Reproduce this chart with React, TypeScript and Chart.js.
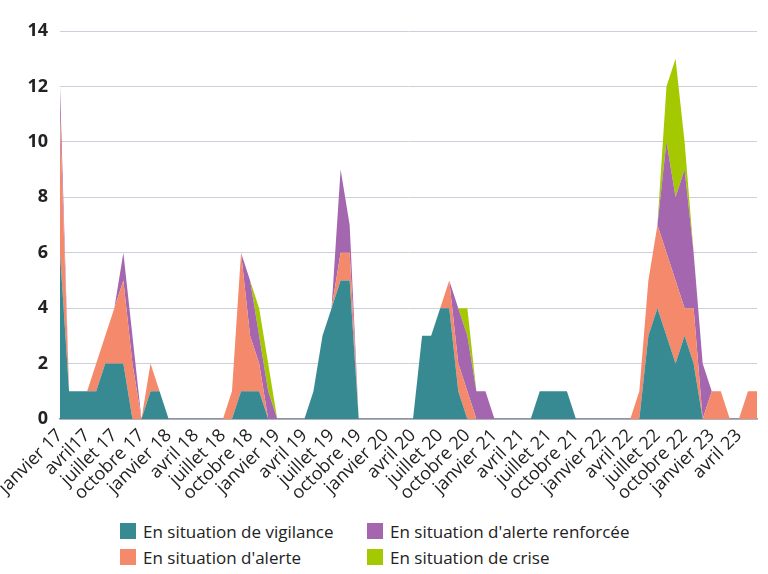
import React, { useEffect, useRef } from "react";
import { Chart, registerables } from "chart.js";

Chart.register(...registerables);

const monthNames = ["janvier", "février", "mars", "avril", "mai", "juin", "juillet", "août", "septembre", "octobre", "novembre", "décembre"];
const years = ["17", "18", "19", "20", "21", "22", "23"];
const categories: string[] = [];
for (const y of years) for (const m of monthNames) categories.push(m + " " + y);
categories.length = 78; // janvier 17 -> juin 23

const tickLabels = [
  "janvier 17", "avril17", "juillet 17", "octobre 17",
  "janvier 18", "avril 18", "juillet 18", "octobre 18",
  "janvier 19", "avril 19", "juillet 19", "octobre 19",
  "janvier 20", "avril 20", "juillet 20", "octobre 20",
  "janvier 21", "avril 21", "juillet 21", "octobre 21",
  "janvier 22", "avril 22", "juillet 22", "octobre 22",
  "janvier 23", "avril 23",
];

const vigilance = [
  6, 1, 1, 1, 1, 2, 2, 2, 0, 0, 1, 1,
  0, 0, 0, 0, 0, 0, 0, 0, 1, 1, 1, 0,
  0, 0, 0, 0, 1, 3, 4, 5, 5, 0, 0, 0,
  0, 0, 0, 0, 3, 3, 4, 4, 1, 0, 0, 0,
  0, 0, 0, 0, 0, 1, 1, 1, 1, 0, 0, 0,
  0, 0, 0, 0, 0, 3, 4, 3, 2, 3, 2, 0,
  0, 0, 0, 0, 0, 0,
];
const alerte = [
  5, 0, 0, 0, 1, 1, 2, 3, 2, 0, 1, 0,
  0, 0, 0, 0, 0, 0, 0, 1, 5, 2, 1, 0,
  0, 0, 0, 0, 0, 0, 0, 1, 1, 0, 0, 0,
  0, 0, 0, 0, 0, 0, 0, 1, 1, 1, 0, 0,
  0, 0, 0, 0, 0, 0, 0, 0, 0, 0, 0, 0,
  0, 0, 0, 0, 1, 2, 3, 3, 3, 1, 2, 0,
  1, 1, 0, 0, 1, 1,
];
const renforcee = [
  1, 0, 0, 0, 0, 0, 0, 1, 1, 0, 0, 0,
  0, 0, 0, 0, 0, 0, 0, 0, 0, 2, 1, 1,
  0, 0, 0, 0, 0, 0, 0, 3, 1, 0, 0, 0,
  0, 0, 0, 0, 0, 0, 0, 0, 2, 2, 1, 1,
  0, 0, 0, 0, 0, 0, 0, 0, 0, 0, 0, 0,
  0, 0, 0, 0, 0, 0, 0, 4, 3, 5, 2, 2,
  0, 0, 0, 0, 0, 0,
];
const crise = [
  0, 0, 0, 0, 0, 0, 0, 0, 0, 0, 0, 0,
  0, 0, 0, 0, 0, 0, 0, 0, 0, 0, 1, 1,
  0, 0, 0, 0, 0, 0, 0, 0, 0, 0, 0, 0,
  0, 0, 0, 0, 0, 0, 0, 0, 0, 1, 0, 0,
  0, 0, 0, 0, 0, 0, 0, 0, 0, 0, 0, 0,
  0, 0, 0, 0, 0, 0, 0, 2, 5, 1, 0, 0,
  0, 0, 0, 0, 0, 0,
];

const seriesNames = [
  "En situation de vigilance",
  "En situation d'alerte",
  "En situation d'alerte renforcée",
  "En situation de crise",
];
const seriesColors = ["#388a92", "#f4896b", "#a466ae", "#a5c900"];
const seriesData = [vigilance, alerte, renforcee, crise];

const FONT = "'Open Sans', 'Noto Sans', sans-serif";

export default function App() {
  const canvasRef = useRef<HTMLCanvasElement | null>(null);

  useEffect(() => {
    if (!canvasRef.current) return;
    const chart = new Chart(canvasRef.current, {
      type: "line",
      data: {
        labels: categories,
        datasets: seriesData.map((d, i) => ({
          label: seriesNames[i],
          data: d,
          backgroundColor: seriesColors[i],
          borderColor: seriesColors[i],
          borderWidth: 0,
          pointRadius: 0,
          tension: 0,
          fill: i === 0 ? "origin" : "-1",
        })),
      },
      options: {
        animation: false,
        responsive: true,
        maintainAspectRatio: false,
        layout: { padding: { left: 0, right: 11, top: 31, bottom: 0 } },
        plugins: { legend: { display: false }, tooltip: { enabled: false } },
        scales: {
          x: {
            type: "category",
            offset: false,
            grid: { display: false, drawTicks: false },
            border: { display: true, color: "#8d91a3", width: 1.5 },
            ticks: {
              autoSkip: false,
              maxRotation: 45,
              minRotation: 45,
              padding: 6,
              color: "#222",
              font: { family: FONT, size: 18 },
              callback: (_v: any, i: number) => (i % 3 === 0 ? tickLabels[i / 3] : null),
            },
            afterFit: (s: any) => {
              s.height = 93;
              s.paddingLeft = 0;
              s.paddingRight = 0;
            },
          },
          y: {
            stacked: true,
            min: 0,
            max: 14,
            ticks: {
              stepSize: 2,
              padding: 12,
              color: "#222",
              font: { family: FONT, size: 18, weight: "bold" },
            },
            grid: { color: "#cdd0da", drawTicks: false, lineWidth: 1 },
            border: { display: false },
            afterFit: (s: any) => {
              s.width = 60;
            },
          },
        },
      } as any,
    });
    return () => chart.destroy();
  }, []);

  const legendItems = [
    { i: 0, left: 120, top: 522 },
    { i: 2, left: 367, top: 522 },
    { i: 1, left: 120, top: 548 },
    { i: 3, left: 367, top: 548 },
  ];

  return (
    <div style={{ position: "absolute", left: 0, top: 0, width: 768, height: 574, background: "#fff", fontFamily: FONT }}>
      <div style={{ position: "absolute", left: 0, top: 0, width: 768, height: 512 }}>
        <canvas ref={canvasRef} />
      </div>
      {legendItems.map((it) => (
        <div
          key={it.i}
          style={{ position: "absolute", left: it.left, top: it.top, display: "flex", alignItems: "center", height: 18, fontSize: 17, color: "#222", whiteSpace: "nowrap" }}
        >
          <span style={{ display: "inline-block", width: 16, height: 16, background: seriesColors[it.i], marginRight: 7 }} />
          <span>{seriesNames[it.i]}</span>
        </div>
      ))}
    </div>
  );
}
